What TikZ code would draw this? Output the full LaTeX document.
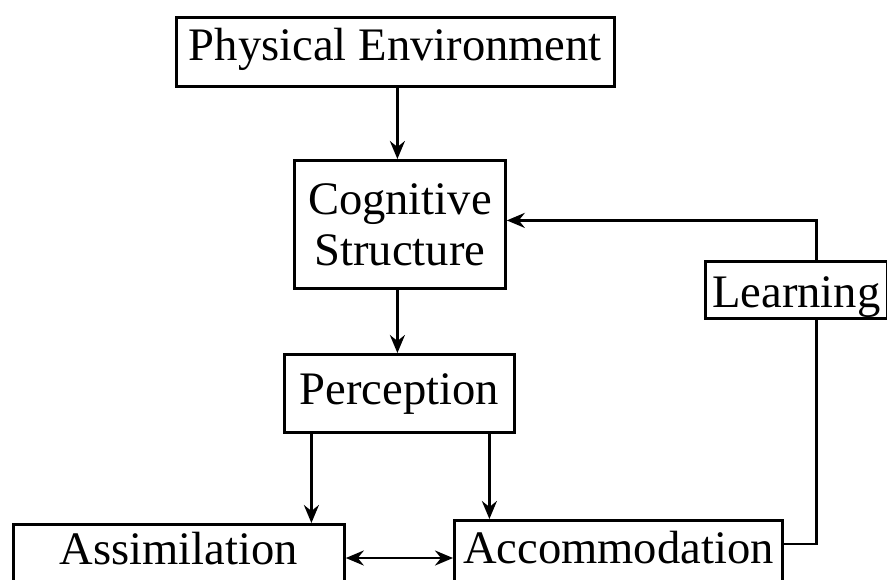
\documentclass[tikz,border=0pt]{standalone}
\usepackage{fontspec}
\setmainfont{Liberation Serif}
\usetikzlibrary{arrows.meta,calc}
\begin{document}
\begin{tikzpicture}[x=0.5pt,y=-0.5pt,
  box/.style={draw,line width=1.4pt,inner sep=0pt,anchor=north west,font=\fontsize{23.3}{25.5}\selectfont},
  conn/.style={line width=1.4pt},
  tip/.tip={Stealth[length=9pt,width=7.5pt,inset=3pt]},
  arr/.style={conn,-tip}]
\useasboundingbox (0,0) rectangle (887,579);
\clip (0,0) rectangle (887,579);
\node[box,minimum width=219pt,text height=21.5pt,text depth=13pt] (phys) at (175,16) {Physical Environment};
\node[box,minimum width=105.5pt,minimum height=64pt,align=center] (cog) at (293,159) {Cognitive\\Structure};
\node[box,minimum width=91pt,text height=23pt,text depth=5.5pt] (learn) at (704,260) {Learning};
\node[box,minimum width=115pt,text height=25pt,text depth=14pt] (perc) at (283,353) {Perception};
\node[box,minimum width=165.5pt,text height=20pt,text depth=30pt] (assim) at (12,523) {Assimilation};
\node[box,minimum width=164pt,text height=21.5pt,text depth=30pt] (accom) at (453,519) {Accommodation};
\draw[arr] ([xshift=1pt]phys.south) -- ([xshift=-1.25pt]cog.north);
\draw[arr] ([xshift=-1.25pt]cog.south) -- ([xshift=-1pt]perc.north);
\draw[arr] ([xshift=-44pt]perc.south) coordinate (pa) -- (pa |- assim.north);
\draw[arr] ([xshift=45pt]perc.south) coordinate (pb) -- (pb |- accom.north);
\draw[conn,tip-tip] ([yshift=-17.5pt]assim.north east) coordinate (da) -- (da -| accom.west);
\draw[conn] ([yshift=-12.5pt]accom.north east) -| ([xshift=10pt]learn.south);
\draw[arr] ([xshift=10pt]learn.north) |- ([yshift=2pt]cog.east);
\end{tikzpicture}
\end{document}
